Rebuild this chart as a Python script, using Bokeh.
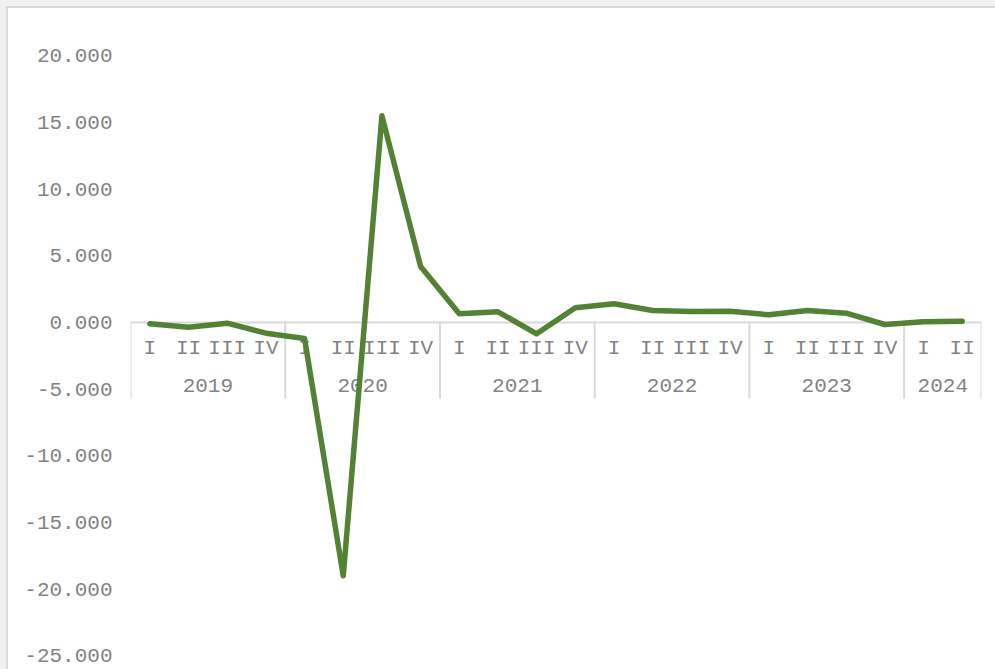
from bokeh.plotting import figure
from bokeh.models import Range1d, FixedTicker, PrintfTickFormatter, ColumnDataSource
from bokeh.core.properties import value
from bokeh.embed import file_html
from bokeh.resources import INLINE

# ---- data ----
years = ["2019", "2020", "2021", "2022", "2023", "2024"]
quarters_per_year = [4, 4, 4, 4, 4, 2]
quarter_names = ["I", "II", "III", "IV"]
values = [-0.1, -0.35, -0.05, -0.8, -1.2,
          -19.0, 15.5, 4.2,
          0.65, 0.8, -0.85, 1.1,
          1.4, 0.9, 0.82, 0.85,
          0.58, 0.9, 0.7, -0.15,
          0.05, 0.1]
y_ticks = [-25, -20, -15, -10, -5, 0, 5, 10, 15, 20]

# ---- derived ----
quarter_labels = []
for n in quarters_per_year:
    quarter_labels += quarter_names[:n]
n_cat = len(quarter_labels)
xs = [i + 0.5 for i in range(n_cat)]

bounds = [0]
for n in quarters_per_year:
    bounds.append(bounds[-1] + n)
year_centers = [(bounds[i] + bounds[i + 1]) / 2 for i in range(len(years))]

TEXT = "#838383"
AXIS = "#d9d9d9"
FONT = "Liberation Mono"

p = figure(width=987, height=661, output_backend="svg", toolbar_location=None,
           x_range=Range1d(0, n_cat), y_range=Range1d(-25.65, 22.8),
           min_border_left=122, min_border_right=14, min_border_top=10, min_border_bottom=5)
p.styles = {"margin": "8px 0 0 8px",
            "box-shadow": "0 0 0 2px #d9d9d9, 0 0 0 8px #f0f0f0"}
p.outline_line_color = None
p.background_fill_color = "white"
p.border_fill_color = "white"
p.grid.visible = False
p.xaxis.visible = False

ya = p.yaxis[0]
ya.ticker = FixedTicker(ticks=y_ticks)
ya.formatter = PrintfTickFormatter(format="%.3f")
ya.axis_line_color = None
ya.major_tick_line_color = None
ya.minor_tick_line_color = None
ya.major_label_text_font = FONT
ya.major_label_text_font_size = "21px"
ya.major_label_text_color = TEXT
ya.major_label_standoff = 12

# category axis at y = 0
AXIS_DEPTH = -5.7
p.segment(x0=[0], y0=[0], x1=[n_cat], y1=[0], line_color=AXIS, line_width=2)
p.segment(x0=bounds, y0=[0] * len(bounds), x1=bounds, y1=[AXIS_DEPTH] * len(bounds),
          line_color=AXIS, line_width=2)

p.text(x=xs, y=[0] * n_cat, text=quarter_labels, text_align="center", text_baseline="middle",
       y_offset=26, text_font=value(FONT), text_font_size="21px", text_color=TEXT)
p.text(x=year_centers, y=[0] * len(years), text=years, text_align="center", text_baseline="middle",
       y_offset=63, text_font=value(FONT), text_font_size="21px", text_color=TEXT)

src = ColumnDataSource(dict(x=xs, y=values))
p.line("x", "y", source=src, line_color="#548235", line_width=5.5,
       line_join="round", line_cap="round")

open("out.html", "w").write(file_html(p, INLINE))
